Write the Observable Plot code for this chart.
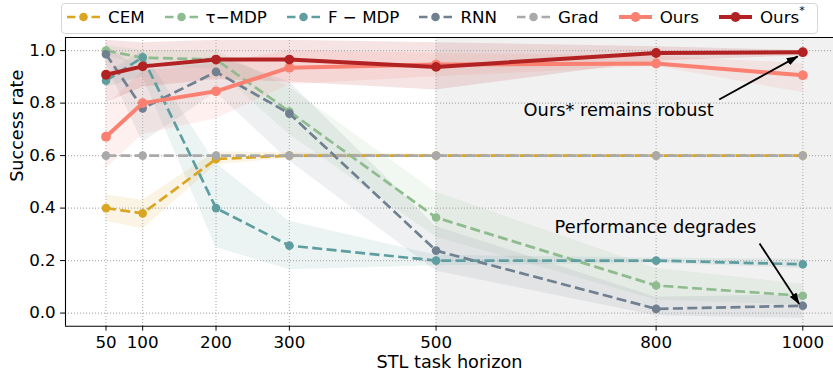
<!DOCTYPE html>
<html><head><meta charset="utf-8">
<script src="https://cdn.jsdelivr.net/npm/d3@7"></script>
<script src="https://cdn.jsdelivr.net/npm/@observablehq/plot@0.6"></script>
<style>
html,body{margin:0;padding:0;background:#fff;overflow:hidden;}
body{font-family:"DejaVu Sans",sans-serif;width:833px;}
#legend{position:relative;height:36px;width:833px;}
#legend .box{position:absolute;left:60.5px;top:3px;width:757px;height:30.5px;box-sizing:border-box;border:1px solid #d6d6d6;border-radius:4px;display:flex;align-items:center;padding:0 0 3.5px 5.5px;font-size:16.7px;color:#000;}
.item{display:flex;align-items:center;margin-right:20px;white-space:nowrap;}
.item svg{margin-right:8px;display:block;}
.item sup{font-size:11px;position:relative;top:-2px;}
#chart svg{overflow:hidden;display:block;}
</style></head><body>
<div id="legend"><div class="box"></div></div>
<div id="chart"></div>
<script>
// ---- data ----
const horizons = [50, 100, 200, 300, 500, 800, 1000];
const methods = ["CEM", "τ−MDP", "F − MDP", "RNN", "Grad", "Ours", "Ours*"];
const colors = ["#DAA520", "#8FBC8F", "#5F9EA0", "#708090", "#A9A9A9", "#FA8072", "#B22222"];

const cemVals  = [0.40, 0.38, 0.587, 0.60, 0.60, 0.60, 0.60];
const cemLo    = [0.35, 0.32, 0.565, 0.59, 0.595, 0.595, 0.595];
const cemHi    = [0.45, 0.43, 0.615, 0.61, 0.605, 0.605, 0.605];

const tauVals  = [1.00, 0.973, 0.966, 0.768, 0.364, 0.105, 0.066];
const tauLo    = [0.98, 0.94, 0.93, 0.68, 0.29, 0.05, 0.03];
const tauHi    = [1.02, 1.00, 1.00, 0.86, 0.46, 0.17, 0.11];

const fmdpVals = [0.885, 0.975, 0.40, 0.257, 0.20, 0.20, 0.186];
const fmdpLo   = [0.86, 0.90, 0.25, 0.165, 0.18, 0.19, 0.17];
const fmdpHi   = [0.91, 1.00, 0.57, 0.35, 0.22, 0.21, 0.205];

const rnnVals  = [0.986, 0.78, 0.919, 0.76, 0.238, 0.016, 0.028];
const rnnLo    = [0.95, 0.65, 0.84, 0.58, 0.16, -0.01, -0.02];
const rnnHi    = [1.02, 0.92, 0.98, 0.88, 0.33, 0.06, 0.07];

const gradVals = [0.60, 0.60, 0.60, 0.60, 0.60, 0.60, 0.60];

const oursVals = [0.672, 0.80, 0.845, 0.935, 0.947, 0.951, 0.906];
const oursLo   = [0.55, 0.68, 0.74, 0.87, 0.90, 0.94, 0.84];
const oursHi   = [0.79, 0.92, 0.95, 1.00, 0.99, 0.98, 0.95];

const oursStarVals = [0.908, 0.94, 0.966, 0.966, 0.938, 0.991, 0.994];
const oursStarLo   = [0.80, 0.86, 0.89, 0.88, 0.85, 0.96, 0.98];
const oursStarHi   = [1.04, 1.03, 1.04, 1.04, 1.03, 1.015, 1.00];

const yTicks = [0.0, 0.2, 0.4, 0.6, 0.8, 1.0];
const xDomain = [-5.2, 1050];
const yDomain = [-0.05, 1.05];
const shadeSpan = [{from: 500, to: 1050}];

const annotations = [
  {x: 749, y: 0.772, text: "Ours* remains robust"},
  {x: 799, y: 0.325, text: "Performance degrades"}
];
const arrows = [
  {x1: 886, y1: 0.814, x2: 993, y2: 0.978},
  {x1: 941, y1: 0.265, x2: 995, y2: 0.035}
];

// ---- build ----
const series = [
  {vals: cemVals, lo: cemLo, hi: cemHi, dashed: true},
  {vals: tauVals, lo: tauLo, hi: tauHi, dashed: true},
  {vals: fmdpVals, lo: fmdpLo, hi: fmdpHi, dashed: true},
  {vals: rnnVals, lo: rnnLo, hi: rnnHi, dashed: true},
  {vals: gradVals, lo: null, hi: null, dashed: true},
  {vals: oursVals, lo: oursLo, hi: oursHi, dashed: false},
  {vals: oursStarVals, lo: oursStarLo, hi: oursStarHi, dashed: false}
].map((s, k) => ({...s, name: methods[k], color: colors[k]}));

const rowsOf = s => horizons.map((h, i) => ({method: s.name, h, v: s.vals[i], lo: s.lo ? s.lo[i] : null, hi: s.hi ? s.hi[i] : null}));

const gridStyle = {stroke: "#b0b0b0", strokeOpacity: 1, strokeWidth: 1.1, strokeDasharray: "1.1,1.9"};

const marks = [
  Plot.rect(shadeSpan, {x1: "from", x2: "to", fill: "#f1f1f1"}),
  ...series.filter(s => s.lo).map(s => Plot.area(rowsOf(s), {x1: "h", y1: "lo", y2: "hi", fill: s.color, fillOpacity: 0.12})),
  Plot.gridX(horizons, gridStyle),
  Plot.gridY(yTicks, gridStyle),
];
for (const s of series) {
  const r = rowsOf(s);
  marks.push(Plot.lineY(r, {
    x: "h", y: "v", stroke: s.color,
    strokeWidth: s.dashed ? 2.7 : 4,
    strokeDasharray: s.dashed ? "10,4.4" : null,
    strokeLinecap: s.dashed ? "butt" : "round",
    strokeLinejoin: "round"
  }));
  marks.push(Plot.dot(r, {x: "h", y: "v", fill: s.color, r: s.dashed ? 4.3 : 4.9, stroke: null}));
}
marks.push(
  Plot.ruleX([xDomain[0]], {stroke: "black", strokeWidth: 1.1}),
  Plot.ruleY([yDomain[0]], {stroke: "black", strokeWidth: 1.1}),
  Plot.ruleY([yDomain[1]], {stroke: "black", strokeWidth: 1.1}),
  Plot.axisX(horizons, {tickSize: 4.9, tickPadding: 5.5, fontSize: 16.7, label: null, tickFormat: d => String(d)}),
  Plot.axisY(yTicks, {tickSize: 4.9, tickPadding: 4.9, fontSize: 16.7, label: null, tickFormat: d3.format(".1f")}),
  Plot.text(["Success rate"], {frameAnchor: "left", text: d => d, rotate: -90, dx: -48, fontSize: 17.6, lineAnchor: "middle"}),
  Plot.text(["STL task horizon"], {frameAnchor: "bottom", text: d => d, dy: 36.5, fontSize: 17.7, lineAnchor: "middle"}),
  Plot.link(arrows, {x1: "x1", y1: "y1", x2: "x2", y2: "y2", stroke: "black", strokeWidth: 1.8}),
  Plot.text(annotations, {x: "x", y: "y", text: "text", fontSize: 17.8, textAnchor: "middle", lineAnchor: "middle", fill: "black"})
);

const svg = Plot.plot({
  width: 833, height: 337,
  marginLeft: 65, marginRight: 0, marginTop: 1, marginBottom: 47.3,
  x: {domain: xDomain, range: [65, 839], label: null},
  y: {domain: yDomain, label: null},
  style: {fontFamily: "DejaVu Sans", fontSize: "16.7px", background: "white", color: "black", overflow: "hidden"},
  marks
});

// filled arrow heads
const sel = d3.select(svg);
sel.insert("defs", ":first-child").html(
  '<marker id="ah" viewBox="0 0 12 8" refX="11" refY="4" markerWidth="12" markerHeight="8" orient="auto" markerUnits="userSpaceOnUse"><path d="M0,0L12,4L0,8z" fill="black"/></marker>');
sel.selectAll('g[aria-label="link"] path').attr("marker-end", "url(#ah)");
document.getElementById("chart").appendChild(svg);

// legend
const box = d3.select("#legend .box");
series.forEach(s => {
  const it = box.append("div").attr("class", "item");
  const sw = it.append("svg").attr("width", 33).attr("height", 14);
  sw.append("line").attr("x1", 0).attr("x2", 33).attr("y1", 7).attr("y2", 7)
    .attr("stroke", s.color).attr("stroke-width", s.dashed ? 2.7 : 4)
    .attr("stroke-dasharray", s.dashed ? "8.5,16,8.5" : null);
  sw.append("circle").attr("cx", 16.5).attr("cy", 7).attr("r", s.dashed ? 4.3 : 4.9).attr("fill", s.color);
  const t = it.append("span");
  if (s.name.endsWith("*")) { t.text(s.name.slice(0, -1)); t.append("sup").text("*"); }
  else t.text(s.name);
});
</script></body></html>
